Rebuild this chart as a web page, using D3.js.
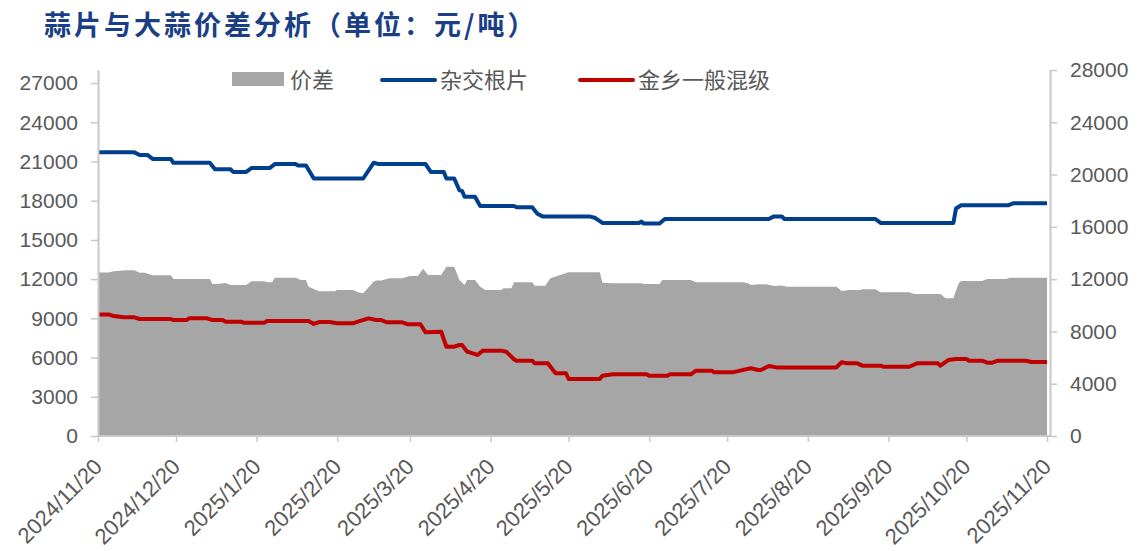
<!DOCTYPE html>
<html>
<head>
<meta charset="utf-8">
<title>蒜片与大蒜价差分析</title>
<script src="https://d3js.org/d3.v7.min.js"></script>
<style>
  body { margin: 0; background: #fff; }
  svg { display: block; }
</style>
</head>
<body>
<div id="chart"></div>
<script>
// 杂交根片 (元/吨)
var hybrid = [
  ["2024-11-20", 21700], ["2024-12-04", 21700], ["2024-12-06", 21500], ["2024-12-09", 21500],
  ["2024-12-11", 21200], ["2024-12-18", 21200], ["2024-12-19", 20900], ["2025-01-02", 20900],
  ["2025-01-04", 20400], ["2025-01-10", 20400], ["2025-01-11", 20200], ["2025-01-16", 20200],
  ["2025-01-18", 20500], ["2025-01-25", 20500], ["2025-01-27", 20800], ["2025-02-04", 20800],
  ["2025-02-05", 20700], ["2025-02-08", 20700], ["2025-02-11", 19700], ["2025-03-02", 19700],
  ["2025-03-06", 20900], ["2025-03-08", 20800], ["2025-03-26", 20800], ["2025-03-28", 20200],
  ["2025-04-02", 20200], ["2025-04-03", 19700], ["2025-04-06", 19700], ["2025-04-08", 18800],
  ["2025-04-09", 18750], ["2025-04-10", 18300], ["2025-04-14", 18300], ["2025-04-16", 17600],
  ["2025-04-29", 17600], ["2025-04-30", 17500], ["2025-05-06", 17500], ["2025-05-08", 17000],
  ["2025-05-10", 16800], ["2025-05-28", 16800], ["2025-05-30", 16700], ["2025-06-02", 16300],
  ["2025-06-16", 16300], ["2025-06-17", 16400], ["2025-06-18", 16250], ["2025-06-24", 16250],
  ["2025-06-26", 16600], ["2025-08-05", 16600], ["2025-08-07", 16800], ["2025-08-10", 16800],
  ["2025-08-11", 16600], ["2025-09-15", 16600], ["2025-09-17", 16300], ["2025-10-15", 16300],
  ["2025-10-16", 17400], ["2025-10-18", 17650], ["2025-11-05", 17650], ["2025-11-07", 17800],
  ["2025-11-20", 17800]
];

// 金乡一般混级 (元/吨)
var mixed = [
  ["2024-11-20", 9300], ["2024-11-24", 9300], ["2024-11-26", 9180], ["2024-11-30", 9080],
  ["2024-12-04", 9080], ["2024-12-06", 8950], ["2024-12-18", 8950], ["2024-12-19", 8870],
  ["2024-12-24", 8870], ["2024-12-25", 9000], ["2025-01-01", 9000], ["2025-01-03", 8870],
  ["2025-01-07", 8870], ["2025-01-08", 8750], ["2025-01-14", 8750], ["2025-01-15", 8670],
  ["2025-01-23", 8670], ["2025-01-24", 8800], ["2025-02-09", 8800], ["2025-02-11", 8570],
  ["2025-02-13", 8720], ["2025-02-17", 8720], ["2025-02-20", 8620], ["2025-02-26", 8620],
  ["2025-02-28", 8750], ["2025-03-04", 9000], ["2025-03-07", 8870], ["2025-03-09", 8870],
  ["2025-03-11", 8700], ["2025-03-17", 8700], ["2025-03-19", 8550], ["2025-03-24", 8550],
  ["2025-03-26", 7930], ["2025-04-01", 7980], ["2025-04-03", 6830], ["2025-04-06", 6830],
  ["2025-04-08", 6960], ["2025-04-09", 6960], ["2025-04-11", 6450], ["2025-04-15", 6200],
  ["2025-04-17", 6530], ["2025-04-24", 6530], ["2025-04-26", 6450], ["2025-04-29", 5870],
  ["2025-04-30", 5760], ["2025-05-06", 5760], ["2025-05-07", 5560], ["2025-05-12", 5560],
  ["2025-05-15", 4800], ["2025-05-19", 4800], ["2025-05-20", 4360], ["2025-06-01", 4360],
  ["2025-06-02", 4610], ["2025-06-06", 4720], ["2025-06-19", 4720], ["2025-06-20", 4610],
  ["2025-06-27", 4610], ["2025-06-28", 4720], ["2025-07-06", 4720], ["2025-07-08", 5000],
  ["2025-07-14", 5000], ["2025-07-15", 4870], ["2025-07-22", 4870], ["2025-07-25", 5000],
  ["2025-07-29", 5180], ["2025-08-01", 5050], ["2025-08-02", 5050], ["2025-08-05", 5350],
  ["2025-08-08", 5250], ["2025-08-31", 5250], ["2025-09-02", 5640], ["2025-09-04", 5560],
  ["2025-09-08", 5560], ["2025-09-10", 5380], ["2025-09-17", 5380], ["2025-09-18", 5300],
  ["2025-09-28", 5300], ["2025-10-01", 5560], ["2025-10-09", 5560], ["2025-10-10", 5380],
  ["2025-10-13", 5810], ["2025-10-16", 5890], ["2025-10-20", 5890], ["2025-10-21", 5760],
  ["2025-10-26", 5760], ["2025-10-28", 5610], ["2025-10-30", 5610], ["2025-11-01", 5760],
  ["2025-11-12", 5760], ["2025-11-14", 5660], ["2025-11-20", 5660]
];

// 价差 (元/吨)
var spread = [
  ["2024-11-20", 12500], ["2024-11-24", 12500], ["2024-11-26", 12600], ["2024-12-01", 12680],
  ["2024-12-04", 12680], ["2024-12-06", 12490], ["2024-12-08", 12490], ["2024-12-11", 12290],
  ["2024-12-18", 12290], ["2024-12-19", 12010], ["2025-01-02", 12010], ["2025-01-03", 11630],
  ["2025-01-05", 11630], ["2025-01-08", 11700], ["2025-01-10", 11550], ["2025-01-16", 11550],
  ["2025-01-18", 11830], ["2025-01-23", 11830], ["2025-01-24", 11760], ["2025-01-26", 11760],
  ["2025-01-27", 12110], ["2025-02-04", 12110], ["2025-02-06", 11930], ["2025-02-08", 11930],
  ["2025-02-09", 11420], ["2025-02-13", 11070], ["2025-02-19", 11070], ["2025-02-20", 11170],
  ["2025-02-26", 11170], ["2025-02-28", 10990], ["2025-03-02", 10920], ["2025-03-06", 11810],
  ["2025-03-07", 11890], ["2025-03-09", 11890], ["2025-03-12", 12060], ["2025-03-17", 12060],
  ["2025-03-20", 12240], ["2025-03-23", 12240], ["2025-03-25", 12800], ["2025-03-27", 12320],
  ["2025-04-01", 12320], ["2025-04-03", 12950], ["2025-04-06", 12950], ["2025-04-08", 11930],
  ["2025-04-10", 11550], ["2025-04-11", 11930], ["2025-04-14", 11930], ["2025-04-16", 11420],
  ["2025-04-18", 11170], ["2025-04-24", 11170], ["2025-04-25", 11300], ["2025-04-28", 11300],
  ["2025-04-29", 11760], ["2025-05-06", 11760], ["2025-05-07", 11500], ["2025-05-11", 11500],
  ["2025-05-13", 12060], ["2025-05-20", 12520], ["2025-06-01", 12520], ["2025-06-02", 11730],
  ["2025-06-06", 11680], ["2025-06-17", 11680], ["2025-06-18", 11630], ["2025-06-24", 11630],
  ["2025-06-25", 11930], ["2025-07-06", 11930], ["2025-07-08", 11760], ["2025-07-26", 11760],
  ["2025-07-28", 11680], ["2025-07-29", 11550], ["2025-08-01", 11600], ["2025-08-04", 11600],
  ["2025-08-07", 11475], ["2025-08-10", 11520], ["2025-08-12", 11420], ["2025-08-31", 11420],
  ["2025-09-02", 11090], ["2025-09-05", 11170], ["2025-09-09", 11170], ["2025-09-10", 11220],
  ["2025-09-15", 11220], ["2025-09-17", 10990], ["2025-09-28", 10990], ["2025-09-30", 10860],
  ["2025-10-10", 10860], ["2025-10-12", 10530], ["2025-10-15", 10530], ["2025-10-17", 11680],
  ["2025-10-18", 11860], ["2025-10-26", 11860], ["2025-10-28", 12010], ["2025-11-04", 12010],
  ["2025-11-06", 12110], ["2025-11-20", 12110]
];

var xTicks = ["2024-11-20", "2024-12-20", "2025-01-20", "2025-02-20", "2025-03-20", "2025-04-20",
  "2025-05-20", "2025-06-20", "2025-07-20", "2025-08-20", "2025-09-20", "2025-10-20", "2025-11-20"];
var leftTicks = [0, 3000, 6000, 9000, 12000, 15000, 18000, 21000, 24000, 27000];
var rightTicks = [0, 4000, 8000, 12000, 16000, 20000, 24000, 28000];
var seriesNames = ["价差", "杂交根片", "金乡一般混级"];
var titleText = "蒜片与大蒜价差分析（单位：元/吨）";

var width = 1140, height = 551;
var margin = {top: 70, right: 90, bottom: 115, left: 98};
var rightX = width - margin.right;           // right axis line
var bottomY = height - margin.bottom;        // x axis line

var parse = d3.timeParse("%Y-%m-%d");
var fmt = d3.timeFormat("%Y/%-m/%-d");

var colGray = "#a6a6a6", colBlue = "#003f8c", colRed = "#c00000";
var axisCol = "#c8c8c8", labelCol = "#595959";
var numFont = "'Liberation Sans', Arial, sans-serif";
var cjkFont = "'Noto Sans CJK SC', sans-serif";

var svg = d3.select("#chart").append("svg")
  .attr("width", width)
  .attr("height", height);

var x = d3.scaleTime()
  .domain([parse(xTicks[0]), parse(xTicks[xTicks.length - 1])])
  .range([margin.left, rightX - 3]);
var y = d3.scaleLinear()
  .domain([0, 28000])
  .range([bottomY, margin.top]);

// spread area
var area = d3.area()
  .x(function(d) { return x(parse(d[0])); })
  .y0(y(0))
  .y1(function(d) { return y(d[1]); });
svg.append("path")
  .datum(spread)
  .attr("d", area)
  .attr("fill", colGray);

// lines
var line = d3.line()
  .x(function(d) { return x(parse(d[0])); })
  .y(function(d) { return y(d[1]); });
svg.append("path")
  .datum(hybrid)
  .attr("d", line)
  .attr("fill", "none")
  .attr("stroke", colBlue)
  .attr("stroke-width", 4)
  .attr("stroke-linejoin", "round");
svg.append("path")
  .datum(mixed)
  .attr("d", line)
  .attr("fill", "none")
  .attr("stroke", colRed)
  .attr("stroke-width", 4)
  .attr("stroke-linejoin", "round");

// left axis
var gl = svg.append("g")
  .attr("transform", "translate(" + margin.left + ",0)")
  .call(d3.axisLeft(y).tickValues(leftTicks).tickSize(7).tickSizeOuter(0).tickPadding(13).tickFormat(d3.format("d")));
// right axis
var gr = svg.append("g")
  .attr("transform", "translate(" + rightX + ",0)")
  .call(d3.axisRight(y).tickValues(rightTicks).tickSize(7).tickSizeOuter(0).tickPadding(13).tickFormat(d3.format("d")));
[gl, gr].forEach(function(g) {
  g.select(".domain").attr("stroke", axisCol).attr("stroke-width", 2);
  g.selectAll(".tick line").attr("stroke", axisCol).attr("stroke-width", 1.5);
  g.selectAll(".tick text")
    .attr("fill", labelCol)
    .style("font-family", numFont)
    .style("font-size", "21px");
});

// bottom axis
var gb = svg.append("g")
  .attr("transform", "translate(0," + bottomY + ")")
  .call(d3.axisBottom(x).tickValues(xTicks.map(parse)).tickSize(6).tickSizeOuter(0).tickFormat(fmt));
gb.select(".domain").remove();
gb.append("line")
  .attr("x1", margin.left).attr("x2", rightX)
  .attr("stroke", axisCol).attr("stroke-width", 2);
gb.selectAll(".tick line").attr("stroke", axisCol).attr("stroke-width", 1.5);
gb.selectAll(".tick text")
  .attr("fill", labelCol)
  .attr("text-anchor", "end")
  .attr("x", 0).attr("y", 0).attr("dy", 0)
  .attr("transform", "translate(5,32) rotate(-45)")
  .style("font-family", numFont)
  .style("font-size", "22px");

// title
svg.append("text")
  .attr("x", 44)
  .attr("y", 35)
  .attr("fill", "#1a3f86")
  .style("font-family", cjkFont)
  .style("font-weight", "bold")
  .style("font-size", "27px")
  .style("letter-spacing", "3px")
  .text(titleText);

// legend
var legend = svg.append("g").attr("transform", "translate(232,0)");
var legendX = [0, 150, 348];
legendX.forEach(function(lx, i) {
  var g = legend.append("g").attr("transform", "translate(" + lx + ",0)");
  if (i === 0) {
    g.append("rect").attr("x", 0).attr("y", 72).attr("width", 52).attr("height", 14).attr("fill", colGray);
  } else {
    g.append("line").attr("x1", 0).attr("x2", 53).attr("y1", 80).attr("y2", 80)
      .attr("stroke", i === 1 ? colBlue : colRed).attr("stroke-width", 4)
      .attr("stroke-linecap", "round");
  }
  g.append("text")
    .attr("x", 58)
    .attr("y", 88)
    .attr("fill", labelCol)
    .style("font-family", cjkFont)
    .style("font-size", "22px")
    .text(seriesNames[i]);
});
</script>
</body>
</html>
